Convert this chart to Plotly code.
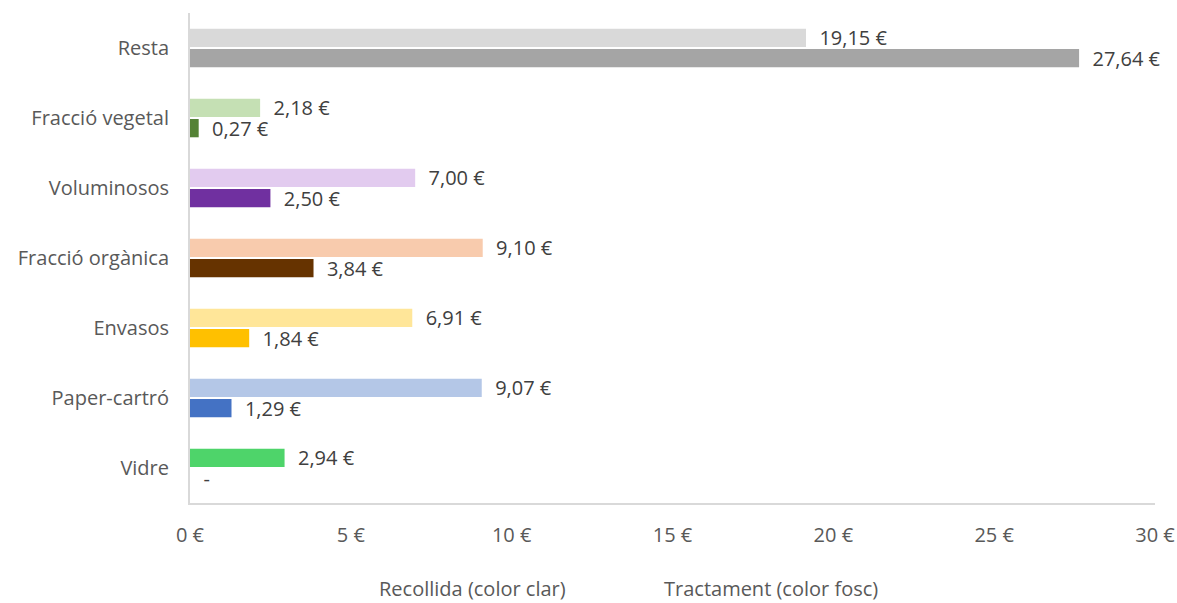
import plotly.graph_objects as go

# categories from bottom to top
categories = ["Vidre", "Paper-cartró", "Envasos", "Fracció orgànica",
              "Voluminosos", "Fracció vegetal", "Resta"]
recollida = [2.94, 9.07, 6.91, 9.10, 7.00, 2.18, 19.15]
tractament = [0.0, 1.29, 1.84, 3.84, 2.50, 0.27, 27.64]

colors_clar = ["#4ed46a", "#b4c7e7", "#ffe699", "#f8cbad", "#e2cbef", "#c5e0b4", "#d9d9d9"]
colors_fosc = ["#4ed46a", "#4472c4", "#ffc000", "#663300", "#7030a0", "#548235", "#a5a5a5"]

x_ticks = [0, 5, 10, 15, 20, 25, 30]

FONT = "Open Sans"
TXT = "#404040"
SIZE = 20


def euro(v):
    if v == 0:
        return "  -"
    return "  " + f"{v:.2f}".replace(".", ",") + " €"


fig = go.Figure()

fig.add_trace(go.Bar(
    y=categories, x=tractament, orientation="h",
    marker=dict(color=colors_fosc, line=dict(width=0)),
    text=[euro(v) for v in tractament], textposition="outside",
    constraintext="none",
    textfont=dict(family=FONT, size=SIZE, color=TXT),
    cliponaxis=False, name="Tractament (color fosc)",
))
fig.add_trace(go.Bar(
    y=categories, x=recollida, orientation="h",
    marker=dict(color=colors_clar, line=dict(width=0)),
    text=[euro(v) for v in recollida], textposition="outside",
    constraintext="none",
    textfont=dict(family=FONT, size=SIZE, color=TXT),
    cliponaxis=False, name="Recollida (color clar)",
))

L, R, T, B = 190, 22, 13, 100
plot_w = 1177 - L - R
plot_h = 603 - T - B

# legend texts only (no swatches, bars have per-category colours)
legend_items = [("Recollida (color clar)", 472), ("Tractament (color fosc)", 771)]

fig.update_layout(
    width=1177, height=603,
    paper_bgcolor="white", plot_bgcolor="white",
    margin=dict(l=L, r=R, t=T, b=B, autoexpand=False),
    barmode="group", bargap=0.42, bargroupgap=0.1,
    showlegend=False,
    font=dict(family=FONT, size=SIZE, color="#595959"),
    xaxis=dict(
        range=[0, 30], tickvals=x_ticks,
        ticktext=[f"{v} €" for v in x_ticks],
        showgrid=False, zeroline=False, automargin=False,
        showline=True, linecolor="#d9d9d9", linewidth=2,
        ticks="", ticklabelstandoff=13,
        tickfont=dict(family=FONT, size=SIZE, color="#595959"),
    ),
    yaxis=dict(
        categoryorder="array", categoryarray=categories,
        showgrid=False, zeroline=False, automargin=False,
        showline=True, linecolor="#d9d9d9", linewidth=2,
        ticks="", ticklabelstandoff=15,
        tickfont=dict(family=FONT, size=SIZE, color="#595959"),
    ),
    annotations=[
        dict(text=label, x=(px - L) / plot_w, y=(603 - B - 588) / plot_h,
             xref="paper", yref="paper", xanchor="center", yanchor="middle",
             showarrow=False, font=dict(family=FONT, size=SIZE, color="#595959"))
        for label, px in legend_items
    ],
)

# drop the browser's default page margin so the figure sits at the top-left corner
fig.write_html("out.html", config={"displayModeBar": False},
               post_script="document.body.style.margin='0';")
